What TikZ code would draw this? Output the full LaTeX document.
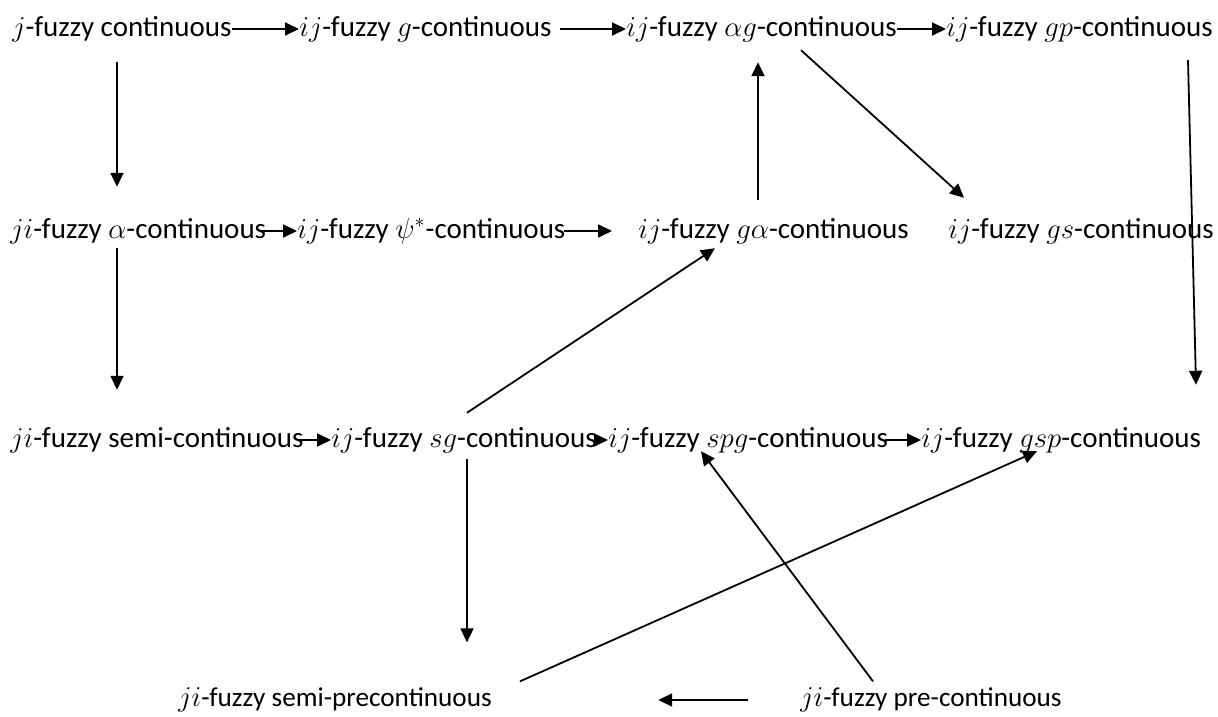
\documentclass[tikz,border=0pt]{standalone}
\usepackage{amsmath}
\usepackage{fontspec}
\setmainfont{Carlito}
\usepackage{tikz}
\usetikzlibrary{arrows.meta,calc}

\begin{document}
\begin{tikzpicture}[x=0.5pt, y=-0.5pt, >={Triangle[length=7pt,width=6.5pt]},
		cls/.style={anchor=west, inner sep=0pt, font=\fontsize{14.5}{17}\selectfont},
		clsb/.style={cls, font=\fontsize{13.6}{16}\selectfont},
		imp/.style={->, line width=0.9pt}]
		\useasboundingbox (0,0) rectangle (1218,716);

		\node (jc) at (12,29) 	[cls] {$j$-fuzzy continuous};
		\node (ijg) at (299,29) 	[cls] {$ij$-fuzzy $g$-continuous};
		\node (ijag) at (626,29) 	[cls] {$ij$-fuzzy $\alpha g$-continuous};
		\node (ijgp) at (946,29) 	[cls] {$ij$-fuzzy $gp$-continuous};

		\node (jia) at (10,231) 	[cls] {$ji$-fuzzy $\alpha$-continuous};
		\node (ijpsi) at (297,231) 	[cls] {$ij$-fuzzy $\psi^{*}$-continuous};
		\node (ijga) at (638,231) 	[cls] {$ij$-fuzzy $g\alpha$-continuous};
		\node (ijgs) at (948,231) 	[cls] {$ij$-fuzzy $gs$-continuous};

		\node (jis) at (10,440) 	[cls] {$ji$-fuzzy semi-continuous};
		\node (ijsg) at (331,440) 	[cls] {$ij$-fuzzy $sg$-continuous};
		\node (ijspg) at (608,440) 	[cls] {$ij$-fuzzy $spg$-continuous};
		\node (ijgsp) at (921,440) 	[cls] {$ij$-fuzzy $gsp$-continuous};

		\node (jisp) at (178,700) 	[clsb] {$ji$-fuzzy semi-precontinuous};
		\node (jip) at (800,700) 	[clsb] {$ji$-fuzzy pre-continuous};

		\draw [imp] (jc.east) -- (ijg.west);
		\draw [imp] ($(ijg.east)+(8,0)$) -- (ijag.west);
		\draw [imp] (ijag.east) -- (ijgp.west);
		\draw [imp] ($(jia.east)+(-7,0)$) -- (ijpsi.west);
		\draw [imp] ($(ijpsi.east)+(-2,0)$) -- ($(ijga.west)+(-26,0)$);
		\draw [imp] ($(jis.east)+(-5,0)$) -- (ijsg.west);
		\draw [imp] ($(ijsg.east)+(-2,0)$) -- (ijspg.west);
		\draw [imp] ($(ijspg.east)+(-3,0)$) -- (ijgsp.west);
		\draw [imp] ($(jip.west)+(-52,0)$) -- ($(jisp.east)+(166,0)$);

		\draw [imp] ($(jc.south -| 117,0)+(0,20)$) -- ($(jia.north -| 117,0)+(0,-31)$);
		\draw [imp] ($(jia.south -| 117,0)+(0,4)$) -- ($(jis.north -| 117,0)+(0,-37)$);
		\draw [imp] ($(ijga.north -| 758,0)+(0,-18)$) -- ($(ijag.south -| 758,0)+(0,20)$);
		\draw [imp] ($(ijag.south -| 801,0)+(0,8)$) -- ($(ijgs.north -| 964,0)+(0,-20)$);
		\draw [imp] ($(ijgp.south -| 1188,0)+(0,18)$) -- ($(ijgsp.north -| 1196,0)+(0,-42)$);
		\draw [imp] ($(ijsg.north -| 467,0)+(0,-14)$) -- ($(ijga.south -| 715,0)+(0,4)$);
		\draw [imp] ($(ijsg.south -| 467,0)+(0,6)$) -- ($(jisp.north -| 467,0)+(0,-45)$);
		\draw [imp] ($(jisp.north -| 520,0)+(0,-6)$) -- ($(ijgsp.south -| 1037,0)+(0,-2)$);
		\draw [imp] ($(jip.north -| 873,0)+(0,-6)$) -- ($(ijspg.south -| 701,0)+(0,-2)$);
	\end{tikzpicture}
\end{document}
